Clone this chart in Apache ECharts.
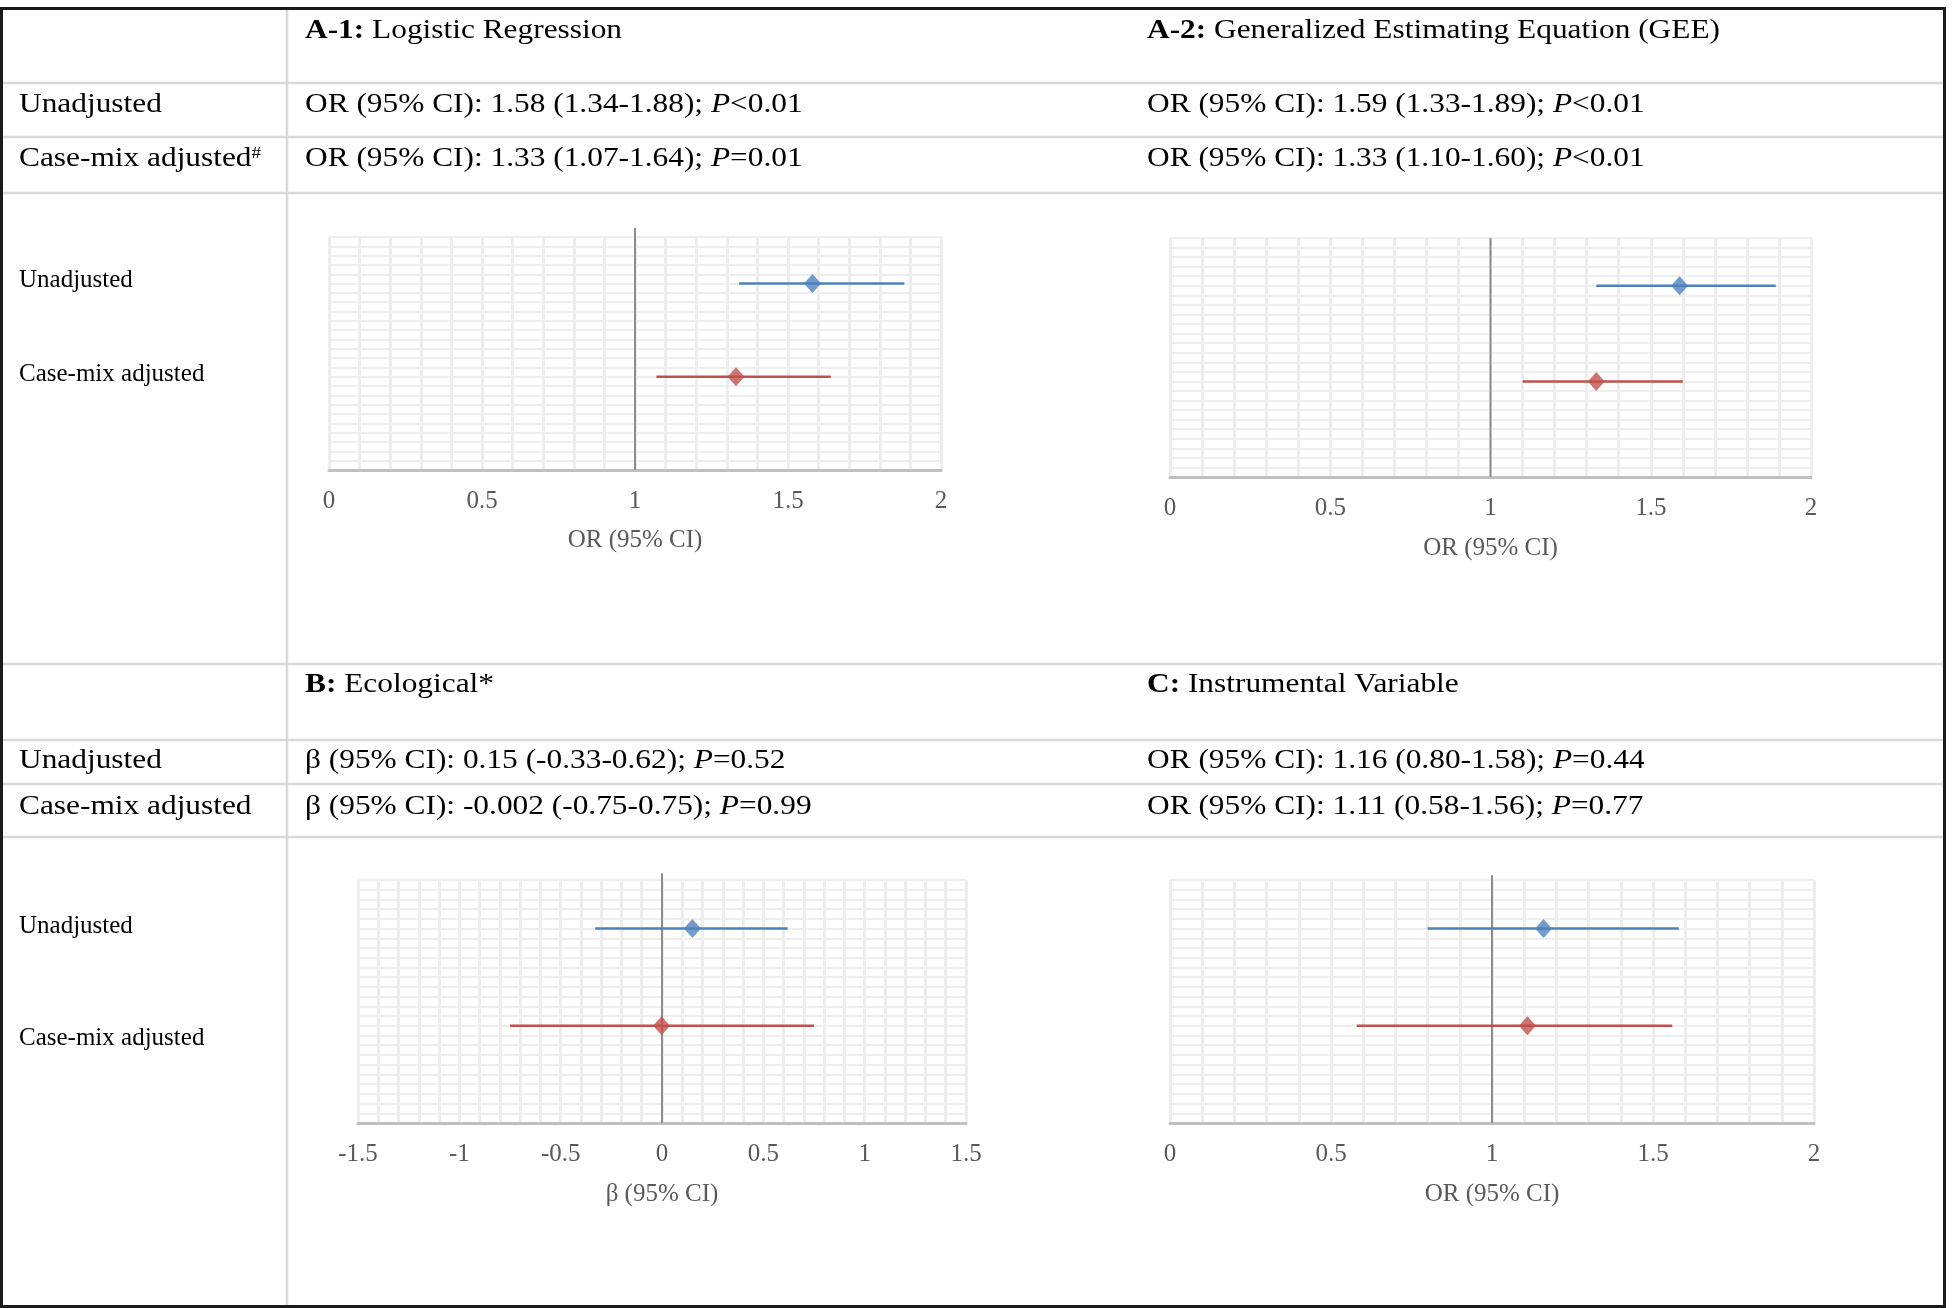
<!DOCTYPE html>
<html>
<head>
<meta charset="utf-8">
<script src="https://cdn.jsdelivr.net/npm/echarts@6/dist/echarts.min.js"></script>
<style>
  html, body { margin: 0; padding: 0; background: #fff; }
  #chart { width: 1952px; height: 1308px; }
</style>
</head>
<body>
<div id="chart"></div>
<script>
// ---------------- data ----------------
const categories = ['Unadjusted', 'Case-mix adjusted'];
const rowY = [2, 1];

const estA1 = [1.58, 1.33];
const loA1  = [1.34, 1.07];
const hiA1  = [1.88, 1.64];

const estA2 = [1.59, 1.33];
const loA2  = [1.33, 1.10];
const hiA2  = [1.89, 1.60];

const estB = [0.15, -0.002];
const loB  = [-0.33, -0.75];
const hiB  = [0.62, 0.75];

const estC = [1.16, 1.11];
const loC  = [0.80, 0.58];
const hiC  = [1.58, 1.56];

const panelTitles = [
  ['A-1:', ' Logistic Regression'],
  ['A-2:', ' Generalized Estimating Equation (GEE)'],
  ['B:', ' Ecological*'],
  ['C:', ' Instrumental Variable']
];
const statTexts = [
  ['OR (95% CI): 1.58 (1.34-1.88); ', 'P', '<0.01', 'OR (95% CI): 1.33 (1.07-1.64); ', 'P', '=0.01'],
  ['OR (95% CI): 1.59 (1.33-1.89); ', 'P', '<0.01', 'OR (95% CI): 1.33 (1.10-1.60); ', 'P', '<0.01'],
  ['β (95% CI): 0.15 (-0.33-0.62); ', 'P', '=0.52', 'β (95% CI): -0.002 (-0.75-0.75); ', 'P', '=0.99'],
  ['OR (95% CI): 1.16 (0.80-1.58); ', 'P', '=0.44', 'OR (95% CI): 1.11 (0.58-1.56); ', 'P', '=0.77']
];
const axisNames = ['OR (95% CI)', 'OR (95% CI)', 'β (95% CI)', 'OR (95% CI)'];
const axisMin = [0, 0, -1.5, 0];
const axisMax = [2, 2, 1.5, 2];
const refValue = [1, 1, 0, 1];

// ---------------- layout / style ----------------
const FONT = '"Liberation Serif","Times New Roman",Times,serif';
const BLUE = '#4f81bd', RED = '#c0504d';
const rowColors = [BLUE, RED];
const grids = [
  { left: 329, top: 237, width: 612, height: 233, nameGap: 58, refTop: 2.6, labels: true, labelShift: [-3, -2] },
  { left: 1170, top: 238, width: 641, height: 239, nameGap: 59, refTop: 2.5, labels: false, labelShift: [0, 0] },
  { left: 358, top: 880, width: 608, height: 243, nameGap: 59, refTop: 2.57, labels: true, labelShift: [-2, 13] },
  { left: 1170, top: 880, width: 644, height: 243, nameGap: 59, refTop: 2.55, labels: false, labelShift: [0, 0] }
];
const panels = [
  { est: estA1, lo: loA1, hi: hiA1 },
  { est: estA2, lo: loA2, hi: hiA2 },
  { est: estB, lo: loB, hi: hiB },
  { est: estC, lo: loC, hi: hiC }
];

const GRIDC = '#eeeeee';
const xAxes = [], yAxes = [], series = [];
grids.forEach((g, i) => {
  xAxes.push({
    gridIndex: i, type: 'value', min: axisMin[i], max: axisMax[i], interval: 0.5,
    name: axisNames[i], nameLocation: 'middle', nameGap: g.nameGap,
    nameTextStyle: { fontFamily: FONT, fontSize: 25, color: '#595959' },
    axisLine: { show: true, onZero: false, lineStyle: { color: '#c0c0c0', width: 3 } },
    axisTick: { show: false },
    axisLabel: { fontFamily: FONT, fontSize: 25, color: '#595959', margin: 19 },
    splitLine: { show: true, lineStyle: { color: GRIDC, width: 3 } },
    minorTick: { show: false, splitNumber: 5 },
    minorSplitLine: { show: true, lineStyle: { color: GRIDC, width: 3 } }
  });
  const richLab = {};
  g.labelShift.forEach((d, k) => {
    richLab['r' + k] = {
      fontFamily: FONT, fontSize: 25, color: '#000',
      padding: d >= 0 ? [2 * d, 0, 0, 0] : [0, 0, -2 * d, 0]
    };
  });
  yAxes.push({
    gridIndex: i, type: 'value', min: 0, max: 2.5, interval: 0.1,
    axisLine: { show: false }, axisTick: { show: false },
    splitLine: { show: true, lineStyle: { color: GRIDC, width: 2 } },
    axisLabel: {
      show: g.labels, align: 'left', margin: g.left - 19,
      fontFamily: FONT, fontSize: 25, color: '#000', rich: richLab,
      formatter: v => {
        for (let k = 0; k < rowY.length; k++) if (Math.abs(v - rowY[k]) < 1e-6) return '{r' + k + '|' + categories[k] + '}';
        return '';
      }
    }
  });
  const p = panels[i];
  series.push({
    type: 'line', xAxisIndex: i, yAxisIndex: i, silent: true, clip: false,
    data: [[refValue[i], 0], [refValue[i], g.refTop]],
    symbol: 'none', lineStyle: { color: '#8c8c8c', width: 2 }, z: 3
  });
  for (let k = 0; k < rowY.length; k++) {
    series.push({
      type: 'line', xAxisIndex: i, yAxisIndex: i, silent: true,
      data: [[p.lo[k], rowY[k]], [p.hi[k], rowY[k]]],
      symbol: 'none', lineStyle: { color: rowColors[k], width: 2.5 }, z: 4
    });
  }
  series.push({
    type: 'scatter', xAxisIndex: i, yAxisIndex: i, silent: true,
    symbol: 'diamond', symbolSize: [17, 19],
    data: p.est.map((v, k) => ({ value: [v, rowY[k]], itemStyle: { color: rowColors[k] } })),
    z: 5
  });
});

// ---------------- table graphics ----------------
const LINEC = '#d9d9d9';
const hLines = [83, 137, 193, 664, 740, 784, 837];
const graphic = [];
graphic.push({ type: 'rect', shape: { x: 1.5, y: 8.5, width: 1943, height: 1298 }, style: { fill: 'none', stroke: '#1a1a1a', lineWidth: 3 }, z: 10 });
graphic.push({ type: 'line', shape: { x1: 287, y1: 9, x2: 287, y2: 1306 }, style: { stroke: LINEC, lineWidth: 2.5 }, z: 9 });
hLines.forEach(y => graphic.push({ type: 'line', shape: { x1: 2, y1: y, x2: 1944, y2: y }, style: { stroke: LINEC, lineWidth: 2.5 }, z: 9 }));

const TS = 28, SX = 1.12;
const rich = {
  b: { fontFamily: FONT, fontSize: TS, fontWeight: 'bold', fill: '#000' },
  i: { fontFamily: FONT, fontSize: TS, fontStyle: 'italic', fill: '#000' },
  n: { fontFamily: FONT, fontSize: TS, fill: '#000' },
  sup: { fontFamily: FONT, fontSize: 17, fill: '#000', verticalAlign: 'top' }
};
function addText(x, y, text) {
  graphic.push({
    type: 'text', x: x, y: y, scaleX: SX, z: 11,
    style: { text: text, x: 0, y: 0, fontFamily: FONT, fontSize: TS, fill: '#000', align: 'left', verticalAlign: 'middle', rich: rich }
  });
}
const colX = [305, 1147, 305, 1147];
const headY = [31, 31, 685, 685];
const r1Y = [105, 105, 761, 761];
const r2Y = [159, 159, 807, 807];
panelTitles.forEach((t, i) => addText(colX[i], headY[i], '{b|' + t[0] + '}{n|' + t[1] + '}'));
statTexts.forEach((s, i) => {
  addText(colX[i], r1Y[i], '{n|' + s[0] + '}{i|' + s[1] + '}{n|' + s[2] + '}');
  addText(colX[i], r2Y[i], '{n|' + s[3] + '}{i|' + s[4] + '}{n|' + s[5] + '}');
});
addText(19, 105, '{n|' + categories[0] + '}');
addText(19, 159, '{n|' + categories[1] + '}{sup|#}');
addText(19, 761, '{n|' + categories[0] + '}');
addText(19, 807, '{n|' + categories[1] + '}');

const chart = echarts.init(document.getElementById('chart'), null, { renderer: 'canvas' });
chart.setOption({
  backgroundColor: '#ffffff',
  animation: false,
  grid: grids.map(g => ({ left: g.left, top: g.top, width: g.width, height: g.height, containLabel: false })),
  xAxis: xAxes,
  yAxis: yAxes,
  series: series,
  graphic: graphic
});
</script>
</body>
</html>
